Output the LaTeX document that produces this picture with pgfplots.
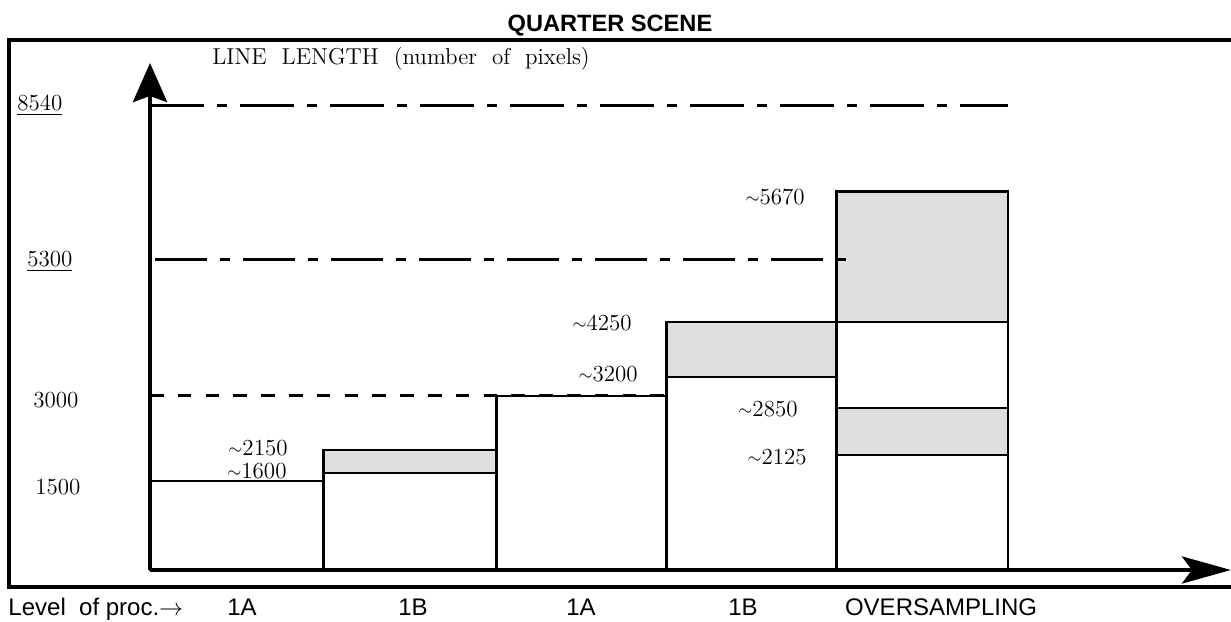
\documentclass[border=0pt]{standalone}
\usepackage{fontspec}
\usepackage{graphicx}
\usepackage{pgfplots}
\pgfplotsset{compat=1.18}
\usetikzlibrary{arrows.meta}
\newfontfamily\sansf{Liberation Sans}
\newcommand{\lab}{\fontsize{11.5pt}{13pt}\selectfont}
\newcommand{\apx}[1]{\raisebox{0.08em}{\scalebox{0.75}{$\sim$}}#1}
\begin{document}
\begin{tikzpicture}
\begin{axis}[
  at={(0pt,0pt)}, anchor=south west, scale only axis,
  width=540.5pt, height=253.5pt,
  xmin=0, xmax=6.2995, ymin=0, ymax=507,
  axis lines=left, xtick=\empty, ytick=\empty,
  clip=false, axis on top,
  x axis line style={line width=2.4pt, -{Stealth[length=24.5pt,width=13.5pt,inset=5pt]}},
  y axis line style={line width=2.2pt, -{Stealth[length=19.5pt,width=17pt,inset=3pt]}},
]
% bars (schematic heights, as drawn)
\addplot[draw=black, line width=1.2pt, fill=white] coordinates {(0,0) (1.01,0) (1.01,89) (0,89)} -- cycle;
\addplot[draw=black, line width=1.2pt, fill=white] coordinates {(1.01,0) (2.02,0) (2.02,97) (1.01,97)} -- cycle;
\addplot[draw=black, line width=1.2pt, fill=gray!25] coordinates {(1.01,97) (2.02,97) (2.02,120) (1.01,120)} -- cycle;
\addplot[draw=black, line width=1.2pt, fill=white] coordinates {(2.02,0) (3.01,0) (3.01,174) (2.02,174)} -- cycle;
\addplot[draw=black, line width=1.2pt, fill=white] coordinates {(3.01,0) (4,0) (4,193) (3.01,193)} -- cycle;
\addplot[draw=black, line width=1.2pt, fill=gray!25] coordinates {(3.01,193) (4,193) (4,248) (3.01,248)} -- cycle;
\addplot[draw=black, line width=1.2pt, fill=white] coordinates {(4,0) (5,0) (5,115) (4,115)} -- cycle;
\addplot[draw=black, line width=1.2pt, fill=gray!25] coordinates {(4,115) (5,115) (5,162) (4,162)} -- cycle;
\addplot[draw=black, line width=1.2pt, fill=white] coordinates {(4,162) (5,162) (5,248) (4,248)} -- cycle;
\addplot[draw=black, line width=1.2pt, fill=gray!25] coordinates {(4,248) (5,248) (5,378.5) (4,378.5)} -- cycle;
% reference lines
\addplot[line width=1.5pt, dash pattern=on 27pt off 6.5pt on 5pt off 6.5pt] coordinates {(0,464) (5,464)};
\addplot[line width=1.5pt, dash pattern=on 26pt off 6.5pt on 5pt off 6.5pt] coordinates {(0.03,310.5) (4.09,310.5)};
\addplot[line width=1.5pt, dash pattern=on 6.8pt off 7.1pt] coordinates {(0,174) (3.01,174)};
% value labels
\node[anchor=base east, font=\lab, inner sep=0pt] at (axis cs:0.804,114) {\apx{2150}};
\node[anchor=base east, font=\lab, inner sep=0pt] at (axis cs:0.798,91) {\apx{1600}};
\node[anchor=base east, font=\lab, inner sep=0pt] at (axis cs:2.844,188) {\apx{3200}};
\node[anchor=base east, font=\lab, inner sep=0pt] at (axis cs:2.809,239) {\apx{4250}};
\node[anchor=base east, font=\lab, inner sep=0pt] at (axis cs:3.817,365) {\apx{5670}};
\node[anchor=base east, font=\lab, inner sep=0pt] at (axis cs:3.776,153) {\apx{2850}};
\node[anchor=base east, font=\lab, inner sep=0pt] at (axis cs:3.829,105) {\apx{2125}};
% y labels
\node[anchor=base west, font=\lab, inner sep=0pt] at (axis cs:-0.775,459) {\underline{8540}};
\node[anchor=base west, font=\lab, inner sep=0pt] at (axis cs:-0.717,303) {\underline{5300}};
\node[anchor=base west, font=\lab, inner sep=0pt] at (axis cs:-0.682,162) {3000};
\node[anchor=base west, font=\lab, inner sep=0pt] at (axis cs:-0.670,75) {1500};
\node[anchor=base west, font=\lab, inner sep=0pt] at (axis cs:0.361,505) {LINE\ \ LENGTH\ \ (number\ \ of\ \ pixels)};
% category labels
\node[anchor=base west, font=\sansf\fontsize{12pt}{14pt}\selectfont, inner sep=0pt] at (axis cs:-0.827,-46) {Level\ \ of proc.$\rightarrow$};
\node[anchor=base, font=\sansf\fontsize{12pt}{14pt}\selectfont, inner sep=0pt] at (axis cs:0.536,-46) {1A};
\node[anchor=base, font=\sansf\fontsize{12pt}{14pt}\selectfont, inner sep=0pt] at (axis cs:1.533,-46) {1B};
\node[anchor=base, font=\sansf\fontsize{12pt}{14pt}\selectfont, inner sep=0pt] at (axis cs:2.512,-46) {1A};
\node[anchor=base, font=\sansf\fontsize{12pt}{14pt}\selectfont, inner sep=0pt] at (axis cs:3.456,-46) {1B};
\node[anchor=base, font=\sansf\fontsize{12pt}{14pt}\selectfont, inner sep=0pt] at (axis cs:4.61,-46) {OVERSAMPLING};
\end{axis}
\draw[line width=2pt] (548pt,265pt) -- (-70.5pt,265pt) -- (-70.5pt,-8.5pt) -- (548pt,-8.5pt);
\node[anchor=base, font=\sansf\bfseries\fontsize{11.8pt}{14pt}\selectfont, inner sep=0pt] at (230pt,269pt) {QUARTER SCENE};
\pgfresetboundingbox
\useasboundingbox (-75pt,-25.5pt) rectangle (540.5pt,285pt);
\end{tikzpicture}
\end{document}
